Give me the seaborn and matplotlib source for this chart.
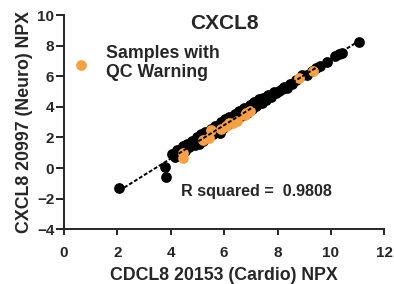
"""
CXCL8 cross-panel NPX concordance scatter (Cardio vs Neuro).
"""

import matplotlib
matplotlib.use("Agg")
import matplotlib.pyplot as plt
import numpy as np
import pandas as pd
import seaborn as sns

# --- data ------------------------------------------------------------------
cardio_npx = [2.07, 3.80, 3.82, 4.05, 4.15, 4.25, 4.35, 4.45, 4.55, 4.60,
              4.70, 4.80, 4.90, 5.00, 5.05, 5.15, 5.20, 5.30, 5.40, 5.50,
              5.60, 5.65, 5.75, 5.83, 5.90, 5.95, 6.05, 6.10, 6.20, 6.30,
              6.40, 6.50, 6.55, 6.65, 6.75, 6.85, 6.95, 7.05, 7.10, 7.20,
              7.30, 7.40, 7.45, 7.55, 7.65, 7.75, 7.85, 7.95, 8.05, 8.15,
              8.25, 8.35, 8.45, 8.55, 8.70, 8.90, 9.10, 9.30, 9.45, 9.60,
              9.85, 10.15, 10.30, 10.40, 11.05]
neuro_npx = [-1.27, 0.10, -0.59, 0.93, 0.70, 1.20, 0.90, 1.45, 1.10, 1.60,
             1.35, 1.80, 1.50, 2.00, 1.55, 2.20, 1.75, 2.35, 2.00, 2.55,
             2.25, 2.75, 2.40, 2.30, 3.00, 2.61, 3.20, 2.80, 3.35, 3.00,
             3.55, 3.20, 3.70, 3.40, 3.90, 3.60, 4.10, 3.85, 4.30, 4.03,
             4.50, 4.25, 4.60, 4.45, 4.80, 4.65, 4.95, 4.90, 5.05, 5.15,
             5.30, 5.25, 5.50, 5.50, 5.75, 6.05, 6.10, 6.35, 6.55, 6.70,
             6.95, 7.30, 7.45, 7.55, 8.21]

qc_cardio = [4.45, 4.47, 5.20, 5.45, 5.51, 5.90, 6.08, 6.20, 6.33, 6.50,
             6.77, 6.83, 6.95, 8.81, 9.34]
qc_neuro = [0.98, 0.65, 1.85, 1.99, 2.50, 2.55, 2.72, 2.95, 2.94, 3.10,
            3.49, 3.60, 3.71, 5.88, 6.32]

r_squared = 0.9808
title = "CXCL8"
x_label = "CDCL8 20153 (Cardio) NPX"
y_label = "CXCL8 20997 (Neuro) NPX"
x_ticks = [0, 2, 4, 6, 8, 10, 12]
y_ticks = [-4, -2, 0, 2, 4, 6, 8, 10]

ORANGE = "#F7A143"

df_all = pd.DataFrame({"cardio": cardio_npx + qc_cardio, "neuro": neuro_npx + qc_neuro})
df_ok = pd.DataFrame({"cardio": cardio_npx, "neuro": neuro_npx})
df_qc = pd.DataFrame({"cardio": qc_cardio, "neuro": qc_neuro})

sns.set_style("ticks")
plt.rcParams["font.family"] = ["Liberation Sans", "DejaVu Sans"]
plt.rcParams["font.weight"] = "bold"

fig = plt.figure(figsize=(3.94, 2.84), dpi=100)
ax = fig.add_axes([64 / 394, 1 - 229.3 / 284, (384.3 - 64) / 394, (229.3 - 15) / 284])

sns.scatterplot(data=df_ok, x="cardio", y="neuro", color="black", s=60,
                linewidth=0, ax=ax, zorder=2)
sns.scatterplot(data=df_qc, x="cardio", y="neuro", color=ORANGE, s=60,
                linewidth=0, ax=ax, zorder=3, label="Samples with\nQC Warning")
sns.regplot(data=df_all, x="cardio", y="neuro", scatter=False, ci=None, ax=ax,
            line_kws={"color": "black", "lw": 1.4, "linestyle": (0, (2, 1)), "zorder": 4})

ax.set_xlim(0, 12)
ax.set_ylim(-4, 10)
ax.set_xticks(x_ticks)
ax.set_yticks(y_ticks)
ax.tick_params(axis="both", width=1.4, labelsize=11)
ax.tick_params(axis="x", length=4.5, pad=7.3)
ax.tick_params(axis="y", length=5.5, pad=1.5)
for lab in ax.get_xticklabels() + ax.get_yticklabels():
    lab.set_fontweight("bold")
for side in ["left", "bottom"]:
    ax.spines[side].set_linewidth(1.4)
sns.despine(ax=ax)

ax.set_xlabel(x_label, fontsize=12.8, fontweight="bold", labelpad=5)
ax.set_ylabel(y_label, fontsize=12.8, fontweight="bold", labelpad=3)
ax.text(0.5, 0.962, title, transform=ax.transAxes, ha="center", va="center",
        fontsize=15, fontweight="bold")
ax.text(4.4, -1.55, f"R squared =  {r_squared:.4f}", ha="left", va="center",
        fontsize=11.6, fontweight="bold")

ax.legend(loc="upper left", bbox_to_anchor=(-0.025, 0.895), frameon=False,
          handletextpad=0.4, borderaxespad=0, markerscale=1.0, labelspacing=0.2,
          prop={"size": 12.8, "weight": "bold"})

fig.savefig("out.png", dpi=100)
plt.close(fig)
